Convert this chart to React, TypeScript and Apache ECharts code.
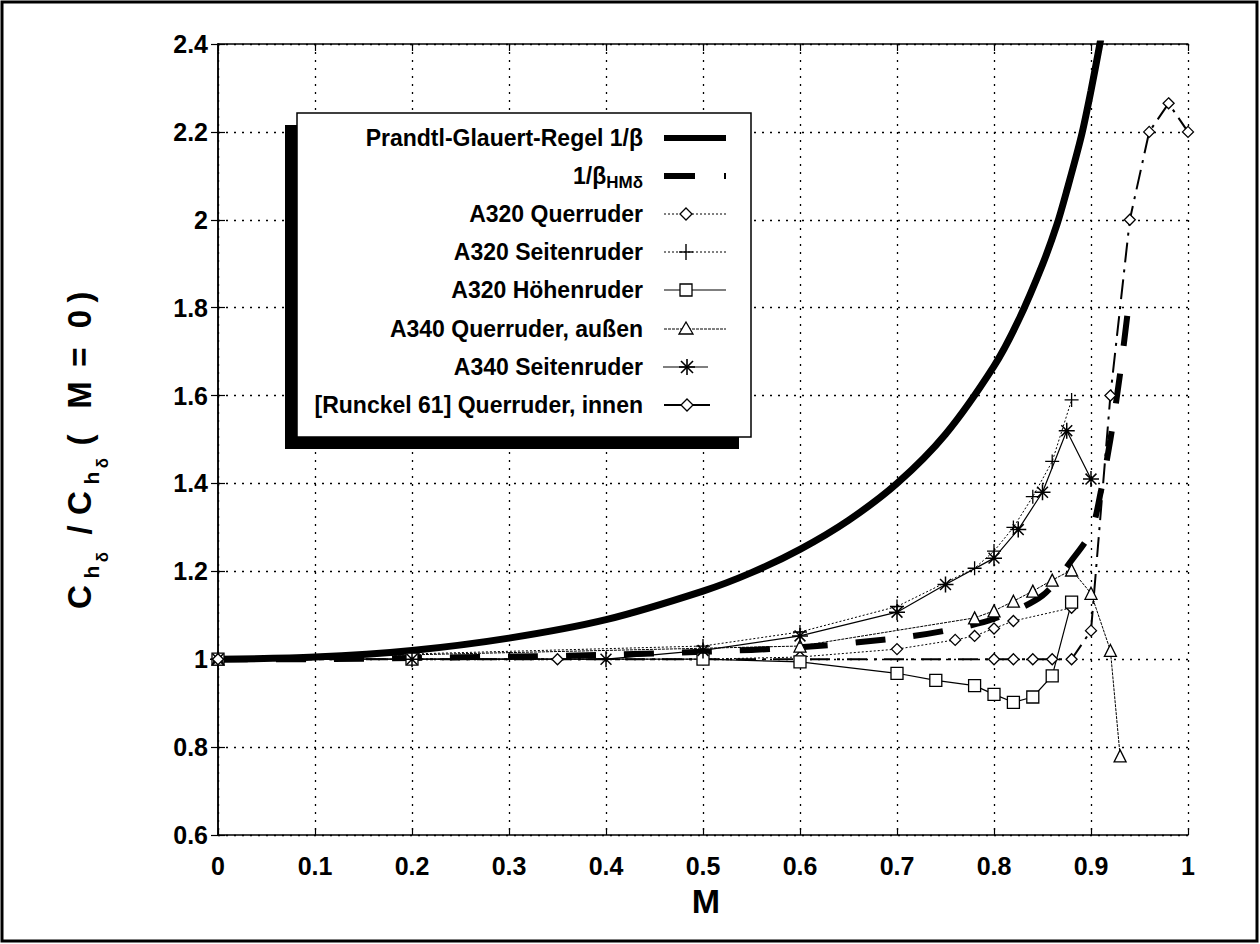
import React, { useEffect, useRef } from "react";
import * as echarts from "echarts";

// ---------- data ----------
const xTicks = [0, 0.1, 0.2, 0.3, 0.4, 0.5, 0.6, 0.7, 0.8, 0.9, 1];
const yTicks = [0.6, 0.8, 1, 1.2, 1.4, 1.6, 1.8, 2, 2.2, 2.4];

const pgM = [0, 0.1, 0.2, 0.3, 0.4, 0.5, 0.55, 0.6, 0.65, 0.7, 0.75, 0.8, 0.825, 0.85, 0.865, 0.875, 0.89, 0.9, 0.91];
const pgY = [1.0, 1.005, 1.02, 1.048, 1.09, 1.155, 1.197, 1.25, 1.316, 1.4, 1.512, 1.667, 1.77, 1.898, 1.99, 2.066, 2.19, 2.294, 2.41];

const hmM = [0, 0.1, 0.2, 0.3, 0.4, 0.5, 0.6, 0.7, 0.75, 0.8, 0.85, 0.88, 0.9, 0.91, 0.92, 0.93, 0.94];
const hmY = [1.0, 1.0, 1.003, 1.006, 1.01, 1.017, 1.027, 1.048, 1.065, 1.092, 1.145, 1.225, 1.29, 1.38, 1.5, 1.65, 1.83];

const a320QM = [0, 0.5, 0.6, 0.7, 0.76, 0.78, 0.8, 0.82, 0.88];
const a320QY = [1.0, 1.0, 1.005, 1.023, 1.044, 1.053, 1.07, 1.087, 1.117];

const a320SM = [0, 0.5, 0.6, 0.7, 0.78, 0.8, 0.82, 0.84, 0.86, 0.88];
const a320SY = [1.0, 1.03, 1.062, 1.12, 1.207, 1.246, 1.3, 1.37, 1.45, 1.59];

const a320HM = [0, 0.2, 0.5, 0.6, 0.7, 0.74, 0.78, 0.8, 0.82, 0.84, 0.86, 0.88];
const a320HY = [1.0, 1.0, 1.0, 0.994, 0.968, 0.952, 0.94, 0.92, 0.902, 0.914, 0.962, 1.13];

const a340QM = [0, 0.6, 0.78, 0.8, 0.82, 0.84, 0.86, 0.88, 0.9, 0.92, 0.93];
const a340QY = [1.0, 1.03, 1.094, 1.11, 1.132, 1.155, 1.18, 1.203, 1.15, 1.02, 0.78];

const a340SM = [0, 0.2, 0.4, 0.5, 0.6, 0.7, 0.75, 0.8, 0.825, 0.85, 0.875, 0.9];
const a340SY = [1.0, 1.0, 1.0, 1.02, 1.053, 1.107, 1.17, 1.23, 1.295, 1.38, 1.52, 1.41];

const runM = [0, 0.35, 0.8, 0.82, 0.84, 0.86, 0.88, 0.9, 0.92, 0.94, 0.96, 0.98, 1.0];
const runY = [1, 1, 1, 1, 1, 1, 1, 1.065, 1.6, 2.0, 2.2, 2.265, 2.2];

const legendLabels = [
  "Prandtl-Glauert-Regel 1/β",
  "1/β",
  "A320 Querruder",
  "A320 Seitenruder",
  "A320 Höhenruder",
  "A340 Querruder, außen",
  "A340 Seitenruder",
  "[Runckel 61] Querruder, innen",
];

// ---------- helpers ----------
const FONT = "'Liberation Sans', Arial, Helvetica, sans-serif";
const pairs = (xs: number[], ys: number[]) => xs.map((x, i) => [x, ys[i]]);
const PLUS = "path://M5,0L5,10M0,5L10,5";
const STAR = "path://M5,0L5,10M0,5L10,5M1.6,1.6L8.4,8.4M8.4,1.6L1.6,8.4";

function measure(text: string, font: string) {
  const c = document.createElement("canvas").getContext("2d")!;
  c.font = font;
  return c.measureText(text).width;
}

export default function App() {
  const ref = useRef<HTMLDivElement>(null);

  useEffect(() => {
    document.body.style.margin = "0";
    const chart = echarts.init(ref.current!, null, { renderer: "svg" });

    const hollow = { color: "#fff", borderColor: "#000", borderWidth: 1.3 };
    const lineSeries = (
      name: string,
      data: number[][],
      lineStyle: any,
      symbol: string,
      symbolSize: number | number[],
      extra: any = {}
    ) => ({
      type: "line",
      name,
      data,
      xAxisIndex: 0,
      yAxisIndex: 0,
      symbol,
      symbolSize,
      showAllSymbol: true,
      itemStyle: hollow,
      lineStyle: { color: "#000", ...lineStyle },
      emphasis: { disabled: true },
      ...extra,
    });

    // ----- legend graphics -----
    const lg: any[] = [];
    const bx = 297, by = 113, bw = 454, bh = 324;
    lg.push({ type: "rect", shape: { x: bx - 12, y: by + 12, width: bw, height: bh }, style: { fill: "#000" }, z: 100 });
    lg.push({ type: "rect", shape: { x: bx, y: by, width: bw, height: bh }, style: { fill: "#fff", stroke: "#000", lineWidth: 1.5 }, z: 101 });
    const rowY = [138, 176, 214, 252, 290, 329, 367, 405];
    const textR = 643;
    const lf = `bold 23px ${FONT}`;
    legendLabels.forEach((t, i) => {
      if (i === 1) {
        const subFont = `bold 17px ${FONT}`;
        const sw = measure("HMδ", subFont);
        lg.push({ type: "text", z: 102, style: { text: "HMδ", x: textR, y: rowY[i] + 6, font: subFont, fill: "#000", textAlign: "right", textVerticalAlign: "middle" } });
        lg.push({ type: "text", z: 102, style: { text: t, x: textR - sw, y: rowY[i], font: lf, fill: "#000", textAlign: "right", textVerticalAlign: "middle" } });
      } else {
        lg.push({ type: "text", z: 102, style: { text: t, x: textR, y: rowY[i], font: lf, fill: "#000", textAlign: "right", textVerticalAlign: "middle" } });
      }
    });
    const L0 = 664, L1 = 726, mx = 686;
    const hline = (x1: number, x2: number, y: number, lw: number, dash?: number[]) => ({
      type: "line", z: 102, shape: { x1, y1: y, x2, y2: y }, style: { stroke: "#000", lineWidth: lw, lineDash: dash },
    });
    const diamond = (x: number, y: number) => ({ type: "polygon", z: 103, shape: { points: [[x, y - 6], [x + 6, y], [x, y + 6], [x - 6, y]] }, style: { fill: "#fff", stroke: "#000", lineWidth: 1.3 } });
    lg.push(hline(L0, L1, rowY[0], 6));
    lg.push(hline(L0, L1, rowY[1], 6, [31, 29]));
    lg.push(hline(L0, L1, rowY[2], 1, [2, 2]));
    lg.push(diamond(mx, rowY[2]));
    lg.push(hline(L0, L1, rowY[3], 1, [2, 2]));
    lg.push(hline(mx - 7, mx + 7, rowY[3], 1.4));
    lg.push({ type: "line", z: 103, shape: { x1: mx, y1: rowY[3] - 8, x2: mx, y2: rowY[3] + 8 }, style: { stroke: "#000", lineWidth: 1.4 } });
    lg.push(hline(L0, L1, rowY[4], 1.2));
    lg.push({ type: "rect", z: 103, shape: { x: mx - 6, y: rowY[4] - 6, width: 12, height: 12 }, style: { fill: "#fff", stroke: "#000", lineWidth: 1.3 } });
    lg.push(hline(L0, L1, rowY[5], 1, [3, 1]));
    lg.push({ type: "polygon", z: 103, shape: { points: [[mx, rowY[5] - 7], [mx + 7, rowY[5] + 5], [mx - 7, rowY[5] + 5]] }, style: { fill: "#fff", stroke: "#000", lineWidth: 1.3 } });
    lg.push(hline(663, 708, rowY[6], 1.2));
    const sx = 687, sy = rowY[6];
    [[0, -8, 0, 8], [-8, 0, 8, 0], [-6, -6, 6, 6], [6, -6, -6, 6]].forEach(([a, b, c, d]) =>
      lg.push({ type: "line", z: 103, shape: { x1: sx + a, y1: sy + b, x2: sx + c, y2: sy + d }, style: { stroke: "#000", lineWidth: 1.6 } })
    );
    lg.push(hline(664, 710, rowY[7], 2));
    lg.push(diamond(687, rowY[7]));

    // ----- y axis title pieces (rotated) -----
    const ytitle: any[] = [];
    const big = `bold 33px ${FONT}`, s1 = `bold 21px ${FONT}`, s2 = `bold 17px ${FONT}`;
    const piece = (text: string, font: string, px: number, py: number) =>
      ytitle.push({ type: "text", rotation: Math.PI / 2, x: px, y: py, style: { text, font, fill: "#000", textAlign: "center", textVerticalAlign: "middle" }, z: 50 });
    piece("C", big, 79, 597);
    piece("h", s1, 91, 572);
    piece("δ", s2, 102, 557);
    piece("/", big, 79, 530);
    piece("C", big, 79, 503);
    piece("h", s1, 91, 478);
    piece("δ", s2, 102, 463);
    piece("(", big, 79, 440);
    piece("M", big, 79, 395);
    piece("=", big, 79, 357);
    piece("0", big, 79, 319);
    piece(")", big, 79, 297);

    const axisCommon = {
      type: "value",
      axisLine: { show: true, lineStyle: { color: "#000", width: 1.5 } },
      axisTick: { show: true, inside: true, length: 7, lineStyle: { color: "#000", width: 1.2 } },
    };
    const labelStyle = { color: "#000", fontFamily: FONT, fontWeight: "bold", fontSize: 25 };
    const fmt = (v: number) => String(Math.round(v * 10) / 10);

    chart.setOption({
      animation: false,
      backgroundColor: "#fff",
      grid: { left: 218, top: 44, width: 970, height: 791, show: false },
      xAxis: [
        {
          ...axisCommon,
          position: "bottom",
          min: xTicks[0],
          max: xTicks[xTicks.length - 1],
          interval: 0.1,
          axisLabel: { ...labelStyle, margin: 18, formatter: fmt },
          splitLine: { show: true, lineStyle: { color: "#000", type: [2, 6], width: 1.3 } },
        },
        { ...axisCommon, position: "top", min: 0, max: 1, interval: 0.1, axisLabel: { show: false }, splitLine: { show: false } },
      ],
      yAxis: [
        {
          ...axisCommon,
          position: "left",
          min: yTicks[0],
          max: yTicks[yTicks.length - 1],
          interval: 0.2,
          axisLabel: { ...labelStyle, margin: 10, formatter: fmt },
          splitLine: { show: true, lineStyle: { color: "#000", type: [2, 6], width: 1.3 } },
        },
        { ...axisCommon, position: "right", min: 0.6, max: 2.4, interval: 0.2, axisLabel: { show: false }, splitLine: { show: false } },
      ],
      series: [
        lineSeries("A320 Querruder", pairs(a320QM, a320QY), { width: 1, type: [2, 2] }, "diamond", 11),
        lineSeries("A320 Seitenruder", pairs(a320SM, a320SY), { width: 1, type: [2, 2] }, PLUS, 14),
        lineSeries("A320 Höhenruder", pairs(a320HM, a320HY), { width: 1.2, type: "solid" }, "rect", 12),
        lineSeries("A340 Querruder, außen", pairs(a340QM, a340QY), { width: 1, type: [3, 1] }, "triangle", 12),
        lineSeries("A340 Seitenruder", pairs(a340SM, a340SY), { width: 1.2, type: "solid" }, STAR, 16, { itemStyle: { color: "#000", borderColor: "#000", borderWidth: 1.5 } }),
        lineSeries("[Runckel 61] Querruder, innen", pairs(runM, runY), { width: 2, type: [20, 7, 3, 7] }, "diamond", 11),
        lineSeries("1/β HMδ", pairs(hmM, hmY), { width: 6, type: [30, 28] }, "none", 0, { smooth: 0.3, z: 3 }),
        lineSeries("Prandtl-Glauert-Regel 1/β", pairs(pgM, pgY), { width: 7, type: "solid" }, "none", 0, { smooth: 0.3, z: 3 }),
      ],
      graphic: [
        { type: "rect", shape: { x: 2, y: 2, width: 1255, height: 939 }, style: { fill: "none", stroke: "#000", lineWidth: 3 }, z: 200 },
        { type: "text", x: 706, y: 901, style: { text: "M", font: `bold 34px ${FONT}`, fill: "#000", textAlign: "center", textVerticalAlign: "middle" }, z: 50 },
        ...ytitle,
        ...lg,
      ],
    });

    return () => chart.dispose();
  }, []);

  return <div ref={ref} style={{ width: 1260, height: 944 }} />;
}
